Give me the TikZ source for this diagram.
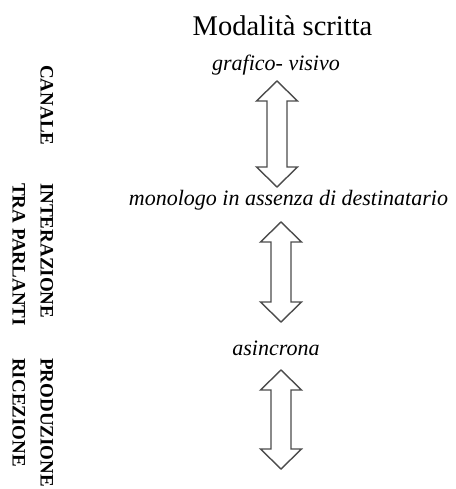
\documentclass[tikz,border=0pt]{standalone}
\usepackage{fontspec}
\setmainfont{Liberation Serif}
\tikzset{
  dblarrow/.style={draw=black!70, line width=1.4pt, line join=miter, fill=white},
  titletext/.style={inner sep=0pt, anchor=base, font=\fontsize{28.5}{30}\selectfont},
  itemtext/.style={inner sep=0pt, anchor=base, font=\fontsize{22}{24}\selectfont\itshape},
  sidetext/.style={inner sep=0pt, anchor=north west, rotate=-90, align=left, font=\fontsize{19}{28}\selectfont\bfseries}
}
\newcommand{\dblarrowshape}[4]{% cx, top, bottom, name
  \draw[dblarrow] (#1,#2) -- (#1+20.5,#2+20) -- (#1+10,#2+20) -- (#1+10,#3-20) -- (#1+20.5,#3-20)
    -- (#1,#3) -- (#1-20.5,#3-20) -- (#1-10,#3-20) -- (#1-10,#2+20) -- (#1-20.5,#2+20) -- cycle;
  \coordinate (#4) at (#1,#2);
}
\begin{document}
\begin{tikzpicture}[x=1pt,y=-1pt]
\useasboundingbox (0,0) rectangle (455,489);
\node[titletext] (title) at (282.5,36) {Modalità scritta};
\node[itemtext] (canale) at (276,71) {grafico- visivo};
\node[itemtext] (inter) at (288.5,205) {monologo in assenza di destinatario};
\node[itemtext] (prod) at (276,355) {asincrona};
\dblarrowshape{277}{81}{187}{a1}
\dblarrowshape{281}{222}{322}{a2}
\dblarrowshape{281}{370}{469}{a3}
\node[sidetext] (l1) at (53.3,65) {CANALE};
\node[sidetext] (l2) at (53.3,183) {INTERAZIONE\\TRA PARLANTI};
\node[sidetext] (l3) at (53.3,358) {PRODUZIONE\\RICEZIONE};
\end{tikzpicture}
\end{document}
